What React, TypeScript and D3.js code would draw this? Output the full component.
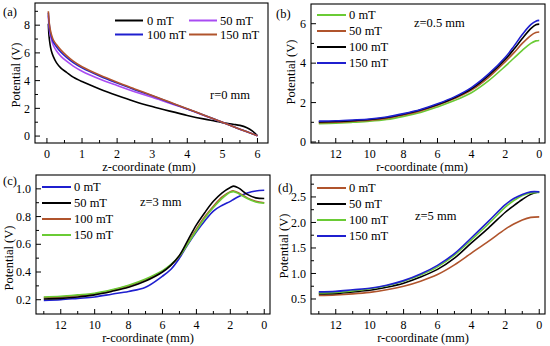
import React from "react";
import * as d3 from "d3";

// ---------- DATA ----------
const LEGEND_LABELS = ["0 mT", "50 mT", "100 mT", "150 mT"];

// Panel (a): r = 0 mm, potential vs z
const A_Z_0 = [0.04, 0.06, 0.09, 0.125, 0.18, 0.27, 0.4, 0.56, 0.75, 1, 1.5, 2, 2.5, 3, 3.5, 4, 4.5, 4.8, 5, 5.3, 5.5, 5.7, 5.85, 6];
const A_V_0 = [8.1, 7.2, 6.6, 6.15, 5.75, 5.3, 4.9, 4.6, 4.25, 3.93, 3.4, 2.93, 2.5, 2.13, 1.8, 1.49, 1.22, 1.08, 0.97, 0.85, 0.77, 0.6, 0.38, 0.02];
const A_Z = [0.04, 0.06, 0.09, 0.125, 0.18, 0.27, 0.4, 0.56, 0.75, 1, 1.5, 2, 2.5, 3, 3.5, 4, 4.5, 5, 5.5, 6];
const A_V_50 = [8.7, 7.9, 7.35, 7.0, 6.55, 6.15, 5.75, 5.4, 5.05, 4.68, 4.12, 3.65, 3.2, 2.8, 2.37, 1.95, 1.47, 1.0, 0.5, 0.02];
const A_V_100 = [8.9, 8.2, 7.6, 7.2, 6.8, 6.45, 6.05, 5.68, 5.3, 4.92, 4.33, 3.82, 3.35, 2.9, 2.43, 1.96, 1.48, 1.0, 0.5, 0.02];
const A_V_150 = [9.0, 8.3, 7.75, 7.35, 6.95, 6.6, 6.2, 5.8, 5.4, 5.0, 4.4, 3.88, 3.4, 2.93, 2.45, 1.97, 1.48, 1.0, 0.5, 0.02];

// Panel (b): z = 0.5 mm
const B_R = [13, 12, 11, 10, 9, 8, 7, 6, 5, 4, 3, 2, 1.5, 1, 0.5, 0.2, 0];
const B_V_0 = [0.93, 0.96, 1.0, 1.05, 1.14, 1.3, 1.5, 1.78, 2.1, 2.5, 3.1, 3.85, 4.25, 4.65, 5.0, 5.13, 5.15];
const B_V_50 = [0.98, 1.0, 1.05, 1.1, 1.2, 1.37, 1.58, 1.86, 2.2, 2.63, 3.27, 4.08, 4.52, 5.0, 5.4, 5.55, 5.58];
const B_V_100 = [1.02, 1.04, 1.08, 1.14, 1.24, 1.41, 1.62, 1.9, 2.25, 2.7, 3.37, 4.2, 4.7, 5.25, 5.75, 5.95, 5.98];
const B_V_150 = [1.06, 1.08, 1.12, 1.17, 1.27, 1.44, 1.65, 1.94, 2.29, 2.76, 3.44, 4.3, 4.85, 5.45, 5.95, 6.13, 6.17];

// Panel (c): z = 3 mm
const C_R = [13, 12, 11, 10, 9, 8, 7, 6, 5.5, 5, 4.5, 4, 3.5, 3, 2.5, 2, 1.8, 1.5, 1, 0.5, 0];
const C_V_0 = [0.195, 0.2, 0.21, 0.22, 0.24, 0.26, 0.29, 0.37, 0.42, 0.5, 0.6, 0.69, 0.77, 0.84, 0.88, 0.91, 0.925, 0.945, 0.97, 0.985, 0.99];
const C_V_50 = [0.205, 0.21, 0.22, 0.235, 0.26, 0.29, 0.335, 0.4, 0.45, 0.52, 0.63, 0.74, 0.83, 0.91, 0.97, 1.01, 1.02, 1.005, 0.96, 0.935, 0.93];
const C_V_100 = [0.215, 0.22, 0.23, 0.243, 0.268, 0.3, 0.345, 0.405, 0.45, 0.515, 0.61, 0.71, 0.8, 0.875, 0.94, 0.98, 0.985, 0.97, 0.935, 0.91, 0.9];
const C_V_150 = [0.22, 0.225, 0.235, 0.247, 0.272, 0.305, 0.35, 0.41, 0.455, 0.515, 0.605, 0.7, 0.79, 0.865, 0.93, 0.975, 0.98, 0.965, 0.93, 0.905, 0.897];

// Panel (d): z = 5 mm
const D_R = [13, 12, 11, 10, 9, 8, 7, 6, 5, 4, 3, 2, 1.5, 1, 0.5, 0];
const D_V_0 = [0.57, 0.58, 0.6, 0.63, 0.68, 0.75, 0.85, 0.98, 1.17, 1.4, 1.63, 1.87, 1.97, 2.05, 2.1, 2.11];
const D_V_50 = [0.6, 0.61, 0.64, 0.67, 0.73, 0.81, 0.93, 1.08, 1.3, 1.6, 1.89, 2.2, 2.33, 2.45, 2.55, 2.6];
const D_V_100 = [0.62, 0.63, 0.66, 0.7, 0.76, 0.85, 0.97, 1.13, 1.36, 1.66, 1.97, 2.3, 2.43, 2.53, 2.58, 2.59];
const D_V_150 = [0.64, 0.65, 0.68, 0.71, 0.77, 0.86, 0.99, 1.16, 1.39, 1.7, 2.02, 2.35, 2.47, 2.55, 2.6, 2.6];

// Tick values
const A_XTICKS = [0, 1, 2, 3, 4, 5, 6];
const A_YTICKS = [0, 2, 4, 6, 8];
const R_TICKS = [12, 10, 8, 6, 4, 2, 0];
const B_YTICKS = [0, 2, 4, 6];
const C_YTICKS = [0.2, 0.4, 0.6, 0.8, 1.0];
const D_YTICKS = [0.5, 1.0, 1.5, 2.0, 2.5];

// ---------- STYLE ----------
const BLACK = "#000000";
const PURPLE = "#a94cf2";
const BLUE = "#1f1fcf";
const BROWN = "#b0542c";
const GREEN = "#6acb35";
const FONT = "'Liberation Serif', 'DejaVu Serif', 'Times New Roman', serif";
const TXT: React.CSSProperties = { fontFamily: FONT };

type Series = { x: number[]; y: number[]; color: string; label: string };

type PanelProps = {
  frame: { l: number; t: number; r: number; b: number };
  xDomain: [number, number];
  yDomain: [number, number];
  xTicks: number[];
  xMinor: number[];
  yTicks: number[];
  yMinor: number[];
  yFmt: (v: number) => string;
  series: Series[];
  drawOrder: number[];
  tag: string;
  tagPos: [number, number];
  yTitle: [number, number];
  xTitle: string;
  xTitlePos: [number, number];
  note: string;
  notePos: [number, number];
  legend: React.ReactNode;
};

function Panel(p: PanelProps) {
  const { l, t, r, b } = p.frame;
  const x = d3.scaleLinear().domain(p.xDomain).range([l, r]);
  const y = d3.scaleLinear().domain(p.yDomain).range([b, t]);
  const line = d3
    .line<[number, number]>()
    .x((d) => x(d[0]))
    .y((d) => y(d[1]))
    .curve(d3.curveCatmullRom.alpha(0.5));
  return (
    <g>
      {p.drawOrder.map((i) => {
        const s = p.series[i];
        const pts = s.x.map((xx, k) => [xx, s.y[k]] as [number, number]);
        return <path key={i} d={line(pts) || ""} fill="none" stroke={s.color} strokeWidth={1.6} />;
      })}
      <rect x={l} y={t} width={r - l} height={b - t} fill="none" stroke="#000" strokeWidth={1.1} />
      {p.xTicks.map((v) => (
        <g key={"xt" + v}>
          <line x1={x(v)} x2={x(v)} y1={b} y2={b - 5} stroke="#000" strokeWidth={1} />
          <text x={x(v)} y={b + 14.5} fontSize={12} textAnchor="middle" style={TXT}>
            {String(v)}
          </text>
        </g>
      ))}
      {p.xMinor.map((v) => (
        <line key={"xm" + v} x1={x(v)} x2={x(v)} y1={b} y2={b - 3} stroke="#000" strokeWidth={1} />
      ))}
      {p.yTicks.map((v) => (
        <g key={"yt" + v}>
          <line x1={l} x2={l + 5} y1={y(v)} y2={y(v)} stroke="#000" strokeWidth={1} />
          <text x={l - 5} y={y(v) + 4.2} fontSize={12} textAnchor="end" style={TXT}>
            {p.yFmt(v)}
          </text>
        </g>
      ))}
      {p.yMinor.map((v) => (
        <line key={"ym" + v} x1={l} x2={l + 3} y1={y(v)} y2={y(v)} stroke="#000" strokeWidth={1} />
      ))}
      <text x={p.tagPos[0]} y={p.tagPos[1]} fontSize={12.5} style={TXT}>
        {p.tag}
      </text>
      <text
        transform={`translate(${p.yTitle[0]},${p.yTitle[1]}) rotate(-90)`}
        fontSize={12.5}
        textAnchor="middle"
        style={TXT}
      >
        Potential (V)
      </text>
      <text x={p.xTitlePos[0]} y={p.xTitlePos[1]} fontSize={12.5} textAnchor="middle" style={TXT}>
        {p.xTitle}
      </text>
      <text x={p.notePos[0]} y={p.notePos[1]} fontSize={12.5} style={TXT}>
        {p.note}
      </text>
      {p.legend}
    </g>
  );
}

function VerticalLegend({ x0, y0, series }: { x0: number; y0: number; series: Series[] }) {
  return (
    <g>
      {series.map((s, i) => (
        <g key={i}>
          <line x1={x0} x2={x0 + 29} y1={y0 + i * 16} y2={y0 + i * 16} stroke={s.color} strokeWidth={2} />
          <text x={x0 + 32} y={y0 + i * 16 + 4.3} fontSize={12.5} style={TXT}>
            {s.label}
          </text>
        </g>
      ))}
    </g>
  );
}

export default function App() {
  const seriesA: Series[] = [
    { x: A_Z_0, y: A_V_0, color: BLACK, label: LEGEND_LABELS[0] },
    { x: A_Z, y: A_V_50, color: PURPLE, label: LEGEND_LABELS[1] },
    { x: A_Z, y: A_V_100, color: BLUE, label: LEGEND_LABELS[2] },
    { x: A_Z, y: A_V_150, color: BROWN, label: LEGEND_LABELS[3] },
  ];
  const seriesB: Series[] = [
    { x: B_R, y: B_V_0, color: GREEN, label: LEGEND_LABELS[0] },
    { x: B_R, y: B_V_50, color: BROWN, label: LEGEND_LABELS[1] },
    { x: B_R, y: B_V_100, color: BLACK, label: LEGEND_LABELS[2] },
    { x: B_R, y: B_V_150, color: BLUE, label: LEGEND_LABELS[3] },
  ];
  const seriesC: Series[] = [
    { x: C_R, y: C_V_0, color: BLUE, label: LEGEND_LABELS[0] },
    { x: C_R, y: C_V_50, color: BLACK, label: LEGEND_LABELS[1] },
    { x: C_R, y: C_V_100, color: BROWN, label: LEGEND_LABELS[2] },
    { x: C_R, y: C_V_150, color: GREEN, label: LEGEND_LABELS[3] },
  ];
  const seriesD: Series[] = [
    { x: D_R, y: D_V_0, color: BROWN, label: LEGEND_LABELS[0] },
    { x: D_R, y: D_V_50, color: BLACK, label: LEGEND_LABELS[1] },
    { x: D_R, y: D_V_100, color: GREEN, label: LEGEND_LABELS[2] },
    { x: D_R, y: D_V_150, color: BLUE, label: LEGEND_LABELS[3] },
  ];

  const rMinor = [13, 11, 9, 7, 5, 3, 1];

  const legendA = (
    <g>
      {seriesA.map((s, i) => {
        const col = i % 2;
        const row = Math.floor(i / 2);
        const lx = col === 0 ? 115 : 189;
        const tx = col === 0 ? 147 : 220;
        const ly = 20.5 + row * 14;
        return (
          <g key={i}>
            <line x1={lx} x2={lx + 28} y1={ly} y2={ly} stroke={s.color} strokeWidth={2} />
            <text x={tx} y={ly + 4.3} fontSize={12.5} style={TXT}>
              {s.label}
            </text>
          </g>
        );
      })}
    </g>
  );

  return (
    <svg
      width={550}
      height={346}
      style={{ position: "absolute", left: 0, top: 0, background: "#fff" }}
    >
      <rect x={0} y={0} width={550} height={346} fill="#fff" />
      <Panel
        frame={{ l: 35, t: 3, r: 268, b: 143 }}
        xDomain={[-0.34, 6.3]}
        yDomain={[-0.5, 9.6]}
        xTicks={A_XTICKS}
        xMinor={[0.5, 1.5, 2.5, 3.5, 4.5, 5.5]}
        yTicks={A_YTICKS}
        yMinor={[1, 3, 5, 7, 9]}
        yFmt={(v) => String(v)}
        series={seriesA}
        drawOrder={[0, 1, 2, 3]}
        tag="(a)"
        tagPos={[3, 16]}
        yTitle={[20, 75]}
        xTitle="z-coordinate (mm)"
        xTitlePos={[149, 170.5]}
        note="r=0 mm"
        notePos={[210, 99]}
        legend={legendA}
      />
      <Panel
        frame={{ l: 311, t: 4, r: 545, b: 143 }}
        xDomain={[13.46, -0.34]}
        yDomain={[-0.05, 7.0]}
        xTicks={R_TICKS}
        xMinor={rMinor}
        yTicks={B_YTICKS}
        yMinor={[1, 3, 5]}
        yFmt={(v) => String(v)}
        series={seriesB}
        drawOrder={[0, 1, 2, 3]}
        tag="(b)"
        tagPos={[276, 18]}
        yTitle={[295, 72]}
        xTitle="r-coordinate (mm)"
        xTitlePos={[422, 170.5]}
        note="z=0.5 mm"
        notePos={[414, 27]}
        legend={<VerticalLegend x0={317} y0={15} series={seriesB} />}
      />
      <Panel
        frame={{ l: 36, t: 175, r: 270, b: 314 }}
        xDomain={[13.46, -0.34]}
        yDomain={[0.097, 1.1]}
        xTicks={R_TICKS}
        xMinor={rMinor}
        yTicks={C_YTICKS}
        yMinor={[0.3, 0.5, 0.7, 0.9]}
        yFmt={(v) => v.toFixed(1)}
        series={seriesC}
        drawOrder={[0, 2, 3, 1]}
        tag="(c)"
        tagPos={[3, 185]}
        yTitle={[13, 258]}
        xTitle="r-coordinate (mm)"
        xTitlePos={[148, 342]}
        note="z=3 mm"
        notePos={[140, 206]}
        legend={<VerticalLegend x0={42} y0={187} series={seriesC} />}
      />
      <Panel
        frame={{ l: 311, t: 175, r: 545, b: 314 }}
        xDomain={[13.46, -0.34]}
        yDomain={[0.206, 2.93]}
        xTicks={R_TICKS}
        xMinor={rMinor}
        yTicks={D_YTICKS}
        yMinor={[0.75, 1.25, 1.75, 2.25, 2.75]}
        yFmt={(v) => v.toFixed(1)}
        series={seriesD}
        drawOrder={[0, 1, 2, 3]}
        tag="(d)"
        tagPos={[278, 192]}
        yTitle={[288, 246]}
        xTitle="r-coordinate (mm)"
        xTitlePos={[423, 342]}
        note="z=5 mm"
        notePos={[415, 220]}
        legend={<VerticalLegend x0={317} y0={188} series={seriesD} />}
      />
    </svg>
  );
}
